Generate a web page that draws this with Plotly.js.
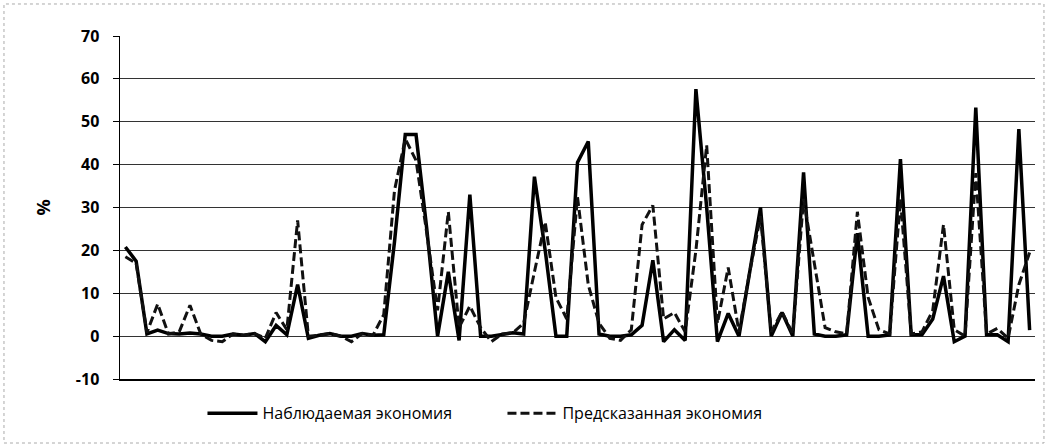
<!DOCTYPE html>
<html>
<head>
<meta charset="utf-8">
<script src="https://cdn.plot.ly/plotly-3.0.1.min.js"></script>
<style>
  html, body { margin: 0; padding: 0; background: #fff; }
  #chart { width: 1048px; height: 447px; }
</style>
</head>
<body>
<div id="chart"></div>
<script>
// Observed savings (solid line), %
const observed = [
  20.8, 17.5, 0.5, 1.4, 0.6, 0.5, 0.7, 0.5, 0, 0,
  0.5, 0.2, 0.6, -1.3, 2.5, 0.3, 12, -0.5, 0.2, 0.6,
  0, 0, 0.6, 0.2, 0.3, 22, 47, 47, 25, 0,
  15, -1, 33, 0, 0, 0.5, 0.8, 0.5, 37.2, 20,
  0, 0, 40.5, 45.4, 0.5, 0, 0, 0.3, 2.5, 17.7,
  -1.3, 1.5, -1, 57.6, 30, -1.3, 5.3, 0, 15, 30,
  0, 5.5, 0, 38.2, 0.5, 0, 0, 0.3, 24, 0,
  0, 0.3, 41.3, 0.3, 0.3, 4, 14, -1.3, 0, 53.3,
  0.3, 0.3, -1.3, 48.3, 1.4
];
// Predicted savings (dashed line), %
const predicted = [
  18.5, 17, 0.8, 7.5, 0.5, 1, 7.2, 0.5, -1, -1.3,
  0.5, 0.2, 0.6, -0.5, 5.5, 1.5, 27, 0, 0.2, 0.6,
  0, -1.3, 0.6, 0.2, 5, 34, 46, 41, 24, 6,
  29, 2, 7, 2, -1.3, 0.5, 0.8, 3, 15, 26.6,
  9, 4, 32.4, 12, 3, -0.5, -1, 1.5, 26, 30.5,
  4, 5.5, 1, 20, 44.5, 3, 16, 1, 15, 28,
  1, 5.7, 0.5, 32, 17, 2, 1, 0.5, 29, 9,
  1.5, 0.5, 32, 0.5, 1, 6, 26, 1.5, 0, 38,
  0.5, 1.8, -0.5, 12, 19.5
];
const seriesNames = ["Наблюдаемая экономия", "Предсказанная экономия"];
const yTicks = [-10, 0, 10, 20, 30, 40, 50, 60, 70];
const yTitle = "%";

const cats = observed.map((_, i) => i + 1);

const traces = [
  {
    x: cats, y: observed, type: "scatter", mode: "lines",
    name: seriesNames[0],
    line: { color: "#000", width: 3.5 }
  },
  {
    x: cats, y: predicted, type: "scatter", mode: "lines",
    name: seriesNames[1],
    line: { color: "#111", width: 3, dash: "9px,4px" }
  }
];

const layout = {
  width: 1048, height: 447,
  margin: { l: 120, r: 13, t: 36, b: 68 },
  paper_bgcolor: "#fff", plot_bgcolor: "#fff",
  font: { family: "Open Sans, DejaVu Sans, sans-serif", color: "#000", size: 15 },
  showlegend: true,
  legend: {
    orientation: "h", x: 0.418, xanchor: "center", y: -0.1, yanchor: "middle",
    font: { size: 16, color: "#000" },
    itemwidth: 50,
    entrywidth: 235, entrywidthmode: "pixels",
    traceorder: "normal"
  },
  xaxis: {
    range: [0.5, cats.length + 0.5],
    showticklabels: false, showgrid: false, zeroline: false,
    ticks: "", showline: true, linecolor: "#000", linewidth: 1.5,
    fixedrange: true
  },
  yaxis: {
    range: [-10, 70], tickvals: yTicks, ticktext: yTicks.map(String),
    showgrid: true, gridcolor: "#333", gridwidth: 1.2,
    zeroline: false, showline: true, linecolor: "#000", linewidth: 1.5,
    ticks: "outside", ticklen: 6, tickcolor: "#000", ticklabelstandoff: 10,
    tickfont: { size: 16, weight: 700, color: "#000" },
    title: { text: yTitle, font: { size: 18, weight: 700, color: "#000" }, standoff: 20 },
    fixedrange: true
  },
  shapes: [
    {
      type: "rect", xref: "paper", yref: "paper",
      x0: -0.1268, x1: 1.0098, y0: -0.1866, y1: 1.0933,
      line: { color: "#aaa", width: 1, dash: "dot" }, fillcolor: "rgba(0,0,0,0)"
    }
  ]
};

Plotly.newPlot("chart", traces, layout, { staticPlot: true, displayModeBar: false });
</script>
</body>
</html>
